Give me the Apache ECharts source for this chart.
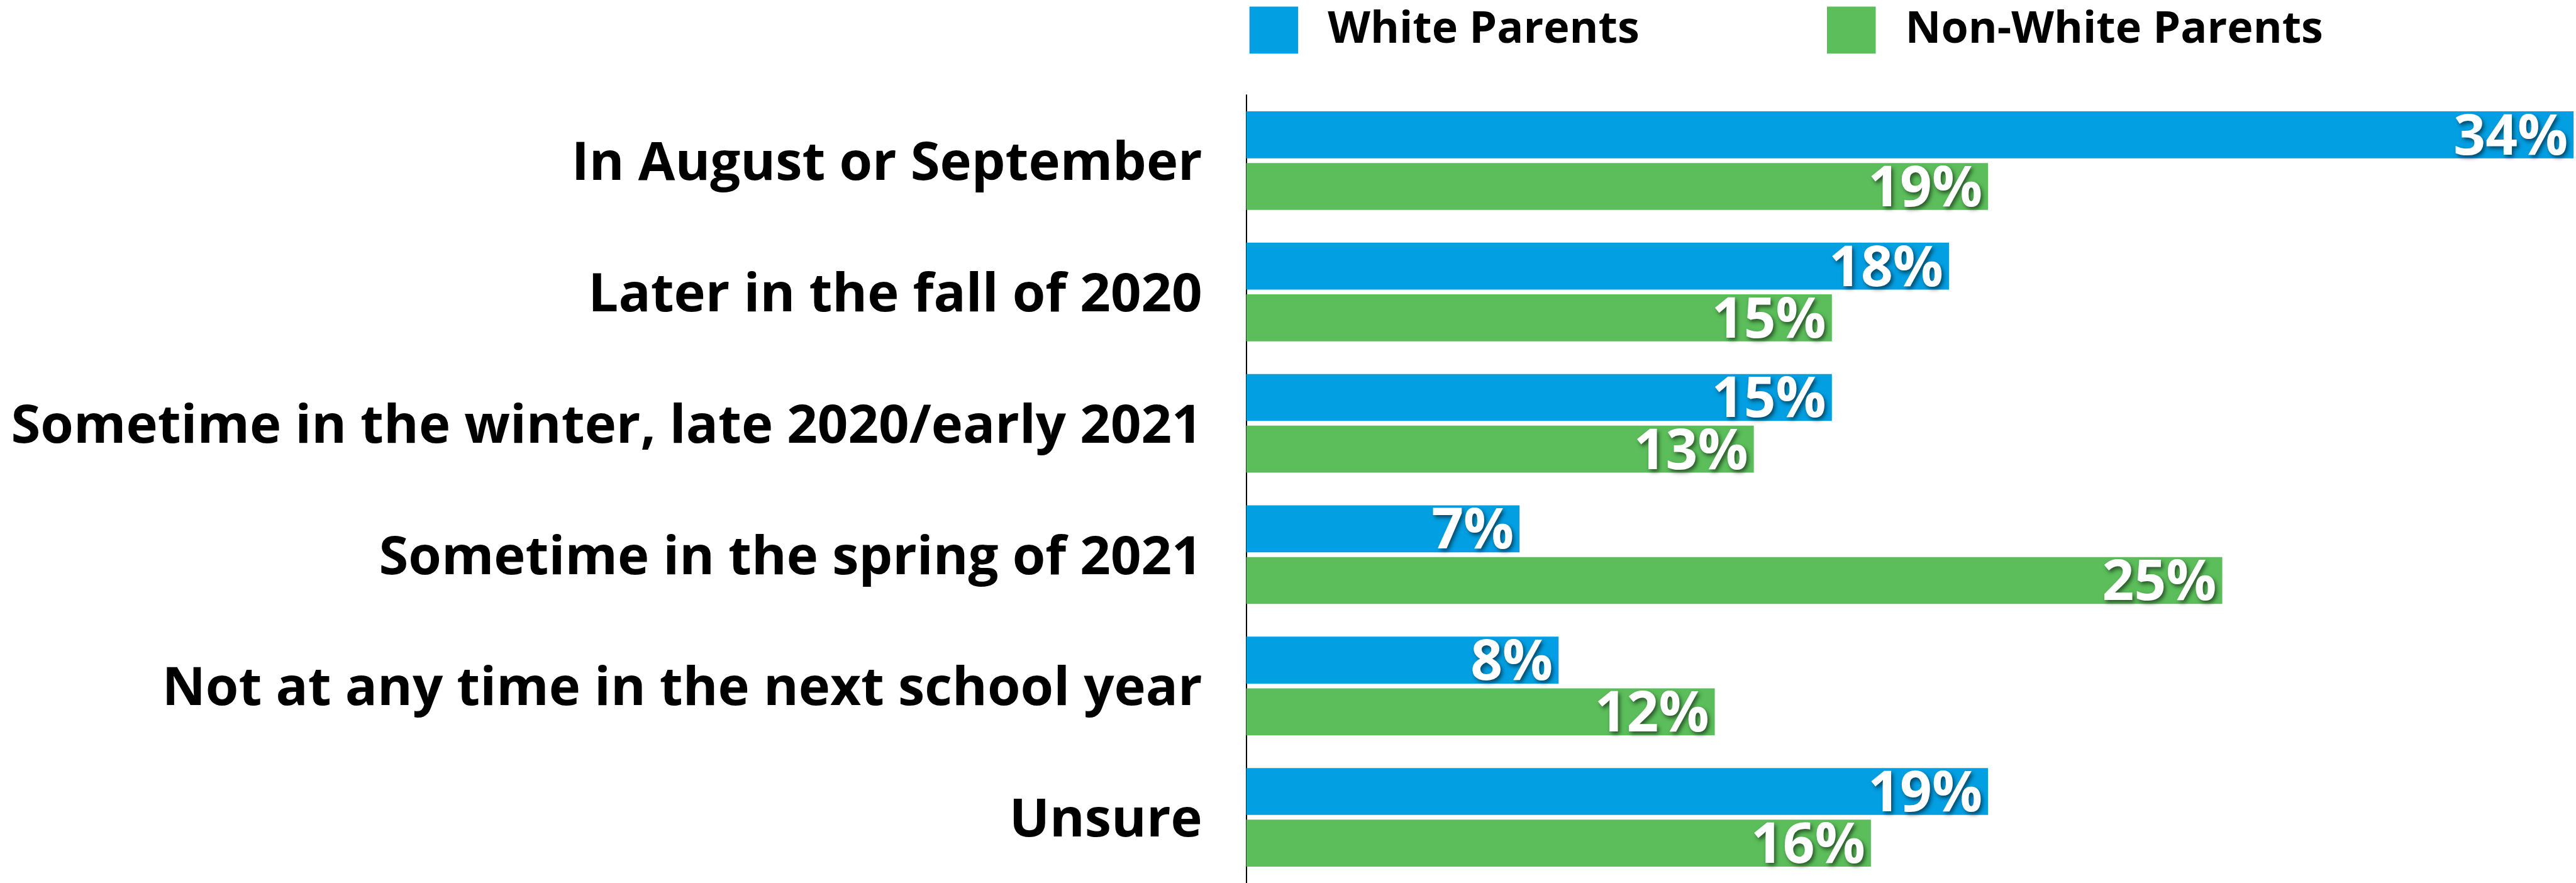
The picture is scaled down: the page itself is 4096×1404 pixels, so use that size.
<!DOCTYPE html>
<html>
<head>
<meta charset="utf-8">
<title>When parents expect to send children back to school</title>
<script src="https://cdn.jsdelivr.net/npm/echarts@6/dist/echarts.min.js"></script>
<style>
  html, body { margin: 0; padding: 0; background: #fff; }
  #chart { width: 4096px; height: 1404px; }
</style>
</head>
<body>
<div id="chart"></div>
<script>
const categories = [
  'In August or September',
  'Later in the fall of 2020',
  'Sometime in the winter, late 2020/early 2021',
  'Sometime in the spring of 2021',
  'Not at any time in the next school year',
  'Unsure'
]
const seriesNames = ['White Parents', 'Non-White Parents']
const whiteParents = [34, 18, 15, 7, 8, 19]
const nonWhiteParents = [19, 15, 13, 25, 12, 16]

const BLUE = '#039fe3'
const GREEN = '#5bbe5a'
const FONT = '"Open Sans"'

const chart = echarts.init(document.getElementById('chart'))

// white value labels with a soft dark drop shadow
const valueLabel = {
  show: true,
  position: 'insideRight',
  distance: 9,
  offset: [0, 6],
  formatter: '{c}%',
  color: '#fff',
  fontFamily: FONT,
  fontWeight: 'bold',
  fontSize: 89,
  textShadowColor: 'rgba(0,0,0,0.55)',
  textShadowBlur: 6,
  textShadowOffsetX: 3,
  textShadowOffsetY: 4
}

const legendBase = {
  top: 5.6,
  icon: 'rect',
  itemWidth: 77.5,
  itemHeight: 74.7,
  textStyle: {
    fontFamily: FONT,
    fontWeight: 'bold',
    fontSize: 70,
    color: '#000',
    padding: [4, 0, 0, 42]
  }
}

const option = {
  animation: false,
  legend: [
    Object.assign({ left: 1981.7, data: [seriesNames[0]] }, legendBase),
    Object.assign({ left: 2900, data: [seriesNames[1]] }, legendBase)
  ],
  grid: { left: 1981.7, right: 3.8, top: 151, bottom: -1.7, containLabel: false },
  xAxis: {
    type: 'value',
    min: 0,
    max: 34,
    show: false
  },
  yAxis: {
    type: 'category',
    inverse: true,
    data: categories,
    axisLine: { show: true, lineStyle: { color: '#000', width: 2 } },
    axisTick: { show: false },
    axisLabel: {
      margin: 70,
      formatter: v => '{c|' + v + '}',
      rich: {
        // extra top padding nudges the text a little below the band centre
        c: {
          color: '#000',
          fontFamily: FONT,
          fontWeight: 'bold',
          fontSize: 85,
          padding: [13, 0, 0, 0]
        }
      }
    }
  },
  series: [
    {
      name: seriesNames[0],
      type: 'bar',
      data: whiteParents,
      barWidth: 74.7,
      barGap: '10%',
      itemStyle: { color: BLUE },
      label: valueLabel
    },
    {
      name: seriesNames[1],
      type: 'bar',
      data: nonWhiteParents,
      barWidth: 74.7,
      barGap: '10%',
      itemStyle: { color: GREEN },
      label: valueLabel
    }
  ]
}

chart.setOption(option)
window.addEventListener('resize', () => chart.resize())
</script>
</body>
</html>
